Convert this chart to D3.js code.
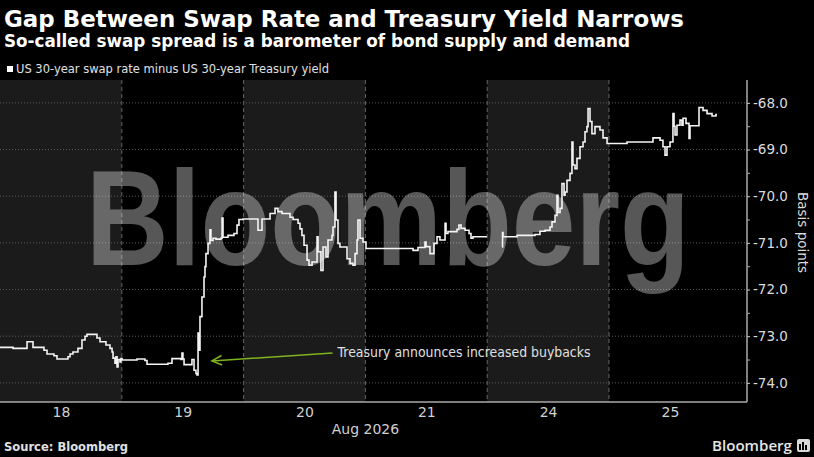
<!DOCTYPE html>
<html>
<head>
	<meta charset="utf-8">
	<title>Gap Between Swap Rate and Treasury Yield Narrows</title>
	<script src="https://cdn.jsdelivr.net/npm/d3@7"></script>
	<style>
		html, body { margin: 0; padding: 0; background: #000; }
		svg { display: block; }
	</style>
</head>
<body>
<div id="chart"></div>
<script>

	// data: x = trading-day position (0 = start of Aug 18), y = basis points
	const days = ["18", "19", "20", "21", "24", "25"];
	const yTicks = [-74, -73, -72, -71, -70, -69, -68];
	const yMinor = [-74.5, -73.5, -72.5, -71.5, -70.5, -69.5, -68.5, -67.5];

	const day18 = [
		[0.000, -73.24], [0.107, -73.26], [0.222, -73.12], [0.271, -73.24], [0.361, -73.30],
		[0.386, -73.38], [0.443, -73.42], [0.468, -73.49], [0.558, -73.44], [0.575, -73.38],
		[0.599, -73.34], [0.640, -73.26], [0.673, -73.08], [0.698, -73.00], [0.714, -72.96],
		[0.796, -73.04], [0.821, -73.12], [0.870, -73.19], [0.903, -73.26], [0.920, -73.34],
		[0.928, -73.47], [0.944, -73.58], [0.952, -73.44], [0.961, -73.66], [0.969, -73.50],
		[0.985, -73.55], [0.993, -73.48]
	];
	const day19 = [
		[1.002, -73.51], [1.125, -73.49], [1.190, -73.52], [1.207, -73.60], [1.379, -73.58],
		[1.412, -73.48], [1.486, -73.50], [1.494, -73.36], [1.502, -73.49], [1.511, -73.61],
		[1.576, -73.50], [1.593, -73.73], [1.609, -73.80], [1.617, -73.83], [1.626, -72.93],
		[1.634, -73.30], [1.642, -72.58], [1.658, -72.16], [1.675, -71.73], [1.683, -71.51],
		[1.691, -71.23], [1.708, -71.01], [1.724, -70.72], [1.732, -70.95], [1.749, -70.90],
		[1.773, -70.92], [1.814, -70.90], [1.823, -70.47], [1.831, -70.88], [1.872, -70.84],
		[1.921, -70.80], [1.946, -70.62], [1.962, -70.50]
	];
	const day20 = [
		[1.995, -70.49], [2.118, -70.73], [2.151, -70.49], [2.217, -70.37], [2.258, -70.26],
		[2.282, -70.33], [2.315, -70.37], [2.381, -70.45], [2.406, -70.50], [2.447, -70.58],
		[2.463, -70.70], [2.479, -70.84], [2.496, -71.05], [2.521, -71.37], [2.537, -71.48],
		[2.562, -71.41], [2.603, -70.87], [2.611, -71.19], [2.635, -71.59], [2.652, -71.09],
		[2.677, -71.30], [2.693, -70.94], [2.726, -70.84], [2.734, -70.66], [2.750, -69.91],
		[2.759, -70.51], [2.775, -71.01], [2.791, -71.09], [2.849, -71.34], [2.874, -71.44],
		[2.898, -71.48], [2.915, -71.23], [2.931, -70.94], [2.939, -70.51], [2.956, -70.90],
		[2.980, -70.98]
	];
	const day21 = [
		[3.005, -71.12], [3.391, -71.16], [3.432, -71.10], [3.489, -70.98], [3.498, -71.08],
		[3.530, -71.23], [3.563, -71.01], [3.588, -70.87], [3.612, -70.94], [3.654, -70.58],
		[3.662, -70.80], [3.678, -70.76], [3.752, -70.71], [3.768, -70.62], [3.785, -70.69],
		[3.818, -70.73], [3.851, -70.80], [3.867, -70.90], [3.883, -70.87], [3.998, -70.87]
	];
	const day24 = [
		[4.122, -71.09], [4.126, -70.78], [4.130, -70.87], [4.245, -70.84], [4.392, -70.82],
		[4.433, -70.75], [4.475, -70.73], [4.516, -70.66], [4.532, -70.55], [4.557, -70.41],
		[4.573, -69.98], [4.581, -70.35], [4.598, -70.26], [4.614, -69.73], [4.631, -69.98],
		[4.639, -69.91], [4.655, -69.66], [4.680, -69.51], [4.696, -68.84], [4.704, -69.33],
		[4.721, -69.41], [4.737, -69.19], [4.762, -68.94], [4.787, -68.84], [4.803, -68.62],
		[4.819, -68.51], [4.828, -68.12], [4.844, -68.40], [4.860, -68.66], [4.885, -68.51],
		[4.926, -68.58], [4.951, -68.75], [4.984, -68.87]
	];
	const day25 = [
		[5.148, -68.84], [5.361, -68.75], [5.419, -68.80], [5.443, -68.94], [5.460, -69.12],
		[5.476, -68.94], [5.501, -68.84], [5.525, -68.23], [5.534, -68.50], [5.542, -68.69],
		[5.558, -68.48], [5.583, -68.37], [5.599, -68.48], [5.608, -68.33], [5.632, -68.44],
		[5.657, -68.76], [5.665, -68.49], [5.739, -68.10], [5.772, -68.16], [5.805, -68.23],
		[5.846, -68.28], [5.878, -68.25], [5.887, -68.25]
	];

	const annotationText = "Treasury announces increased buybacks";
	const annotationFrom = [2.73, -73.36];
	const annotationTo = [1.74, -73.53];

	// layout
	const width = 814;
	const height = 457;
	const plotTop = 80;
	const plotBottom = 402;
	const plotRight = 747;
	const green = "#7fb420";

	const x = d3.scaleLinear([0, 6.133], [0, plotRight]);
	const y = d3.scaleLinear([-74.41, -67.51], [plotBottom, plotTop]);

	const svg = d3.select("#chart")
		.append("svg")
		.attr("width", width)
		.attr("height", height)
		.attr("viewBox", [0, 0, width, height]);

	svg.append("rect")
		.attr("width", width)
		.attr("height", height)
		.attr("fill", "#000");

	// day bands
	svg.append("g")
		.selectAll("rect")
		.data(days)
		.join("rect")
		.attr("x", (d, i) => x(i))
		.attr("y", plotTop)
		.attr("width", (d, i) => (i === days.length - 1 ? plotRight : x(i + 1)) - x(i))
		.attr("height", plotBottom - plotTop)
		.attr("fill", (d, i) => i % 2 === 0 ? "#1b1b1b" : "#000");

	// horizontal grid
	svg.append("g")
		.selectAll("line")
		.data(yTicks)
		.join("line")
		.attr("x1", 0)
		.attr("x2", plotRight)
		.attr("y1", d => y(d))
		.attr("y2", d => y(d))
		.attr("stroke", "#5a5a5a")
		.attr("stroke-width", 1)
		.attr("stroke-dasharray", "1,2");

	// day separators
	svg.append("g")
		.selectAll("line")
		.data(d3.range(1, days.length))
		.join("line")
		.attr("x1", d => x(d))
		.attr("x2", d => x(d))
		.attr("y1", plotTop)
		.attr("y2", plotBottom)
		.attr("stroke", "#666")
		.attr("stroke-dasharray", "4,3");

	// watermark, squeezed horizontally to the reference width
	const mark = svg.append("text")
		.attr("font-family", "Liberation Sans, Arial, sans-serif")
		.attr("font-weight", "bold")
		.attr("font-size", 135)
		.attr("fill", "#fff")
		.attr("fill-opacity", 0.34)
		.text("Bloomberg");
	const markWidth = mark.node().getComputedTextLength() || 712;
	mark.attr("transform", `translate(86,265) scale(${604 / markWidth},1)`);

	// series
	const line = d3.line()
		.x(d => x(d[0]))
		.y(d => y(d[1]))
		.curve(d3.curveStepAfter);

	const segments = [
		[...day18, ...day19, ...day20, ...day21],
		[...day24, ...day25]
	];

	svg.append("g")
		.selectAll("path")
		.data(segments)
		.join("path")
		.attr("d", line)
		.attr("fill", "none")
		.attr("stroke", "#f4f4f4")
		.attr("stroke-width", 1.6)
		.attr("stroke-linejoin", "miter");

	// bottom axis
	const xAxis = d3.axisBottom(x)
		.tickValues(days.map((d, i) => i + 0.5))
		.tickFormat((d, i) => days[i])
		.tickSize(0)
		.tickPadding(5);

	svg.append("g")
		.attr("transform", `translate(0,${plotBottom})`)
		.call(xAxis)
		.call(g => g.select(".domain")
			.attr("d", `M0,0H${plotRight}`)
			.attr("stroke", "#aaa")
			.attr("stroke-width", 1.5))
		.call(g => g.selectAll("text")
			.attr("fill", "#d0d0d0")
			.attr("font-family", "DejaVu Sans, sans-serif")
			.attr("font-size", 14));

	svg.append("text")
		.attr("x", x(3))
		.attr("y", 434)
		.attr("text-anchor", "middle")
		.attr("font-family", "DejaVu Sans, sans-serif")
		.attr("font-size", 14)
		.attr("fill", "#d0d0d0")
		.text("Aug 2026");

	// right axis
	const locale = d3.formatLocale({ decimal: ".", thousands: ",", grouping: [3], currency: ["", ""], minus: "-" });

	svg.append("g")
		.attr("transform", `translate(${plotRight},0)`)
		.call(d3.axisRight(y).tickValues(yMinor.filter(v => v > -74.41 && v < -67.51)).tickSize(3))
		.call(g => g.select(".domain").remove())
		.call(g => g.selectAll("text").remove())
		.call(g => g.selectAll("line").attr("stroke", "#aaa"));

	svg.append("g")
		.attr("transform", `translate(${plotRight},0)`)
		.call(d3.axisRight(y)
			.tickValues(yTicks)
			.tickFormat(locale.format(".1f"))
			.tickSize(3)
			.tickPadding(3)
			.tickSizeOuter(0))
		.call(g => g.select(".domain")
			.attr("d", `M0,${plotTop}V${plotBottom}`)
			.attr("stroke", "#aaa")
			.attr("stroke-width", 1.5))
		.call(g => g.selectAll("line").attr("stroke", "#ccc"))
		.call(g => g.selectAll("text")
			.attr("fill", "#dcdcdc")
			.attr("font-family", "DejaVu Sans, sans-serif")
			.attr("font-size", 13.5));

	// vertical title, glyphs turned clockwise
	svg.append("text")
		.attr("x", 803)
		.attr("y", 192)
		.style("writing-mode", "vertical-rl")
		.attr("font-family", "DejaVu Sans, sans-serif")
		.attr("font-size", 13.5)
		.attr("fill", "#dcdcdc")
		.text("Basis points");

	// annotation
	const ax1 = x(annotationFrom[0]), ay1 = y(annotationFrom[1]);
	const ax2 = x(annotationTo[0]), ay2 = y(annotationTo[1]);
	const ang = Math.atan2(ay1 - ay2, ax1 - ax2);
	const head = 11, spread = 0.45;

	svg.append("line")
		.attr("x1", ax1).attr("y1", ay1)
		.attr("x2", ax2).attr("y2", ay2)
		.attr("stroke", green)
		.attr("stroke-width", 1.5);

	svg.append("path")
		.attr("d", `M${ax2 + head * Math.cos(ang - spread)},${ay2 + head * Math.sin(ang - spread)}L${ax2},${ay2}L${ax2 + head * Math.cos(ang + spread)},${ay2 + head * Math.sin(ang + spread)}`)
		.attr("fill", "none")
		.attr("stroke", green)
		.attr("stroke-width", 1.5);

	svg.append("text")
		.attr("x", ax1 + 5)
		.attr("y", ay1 + 4)
		.attr("font-family", "DejaVu Sans, sans-serif")
		.attr("font-size", 13.5)
		.attr("textLength", 253)
		.attr("lengthAdjust", "spacingAndGlyphs")
		.attr("fill", "#e0e0e0")
		.text(annotationText);

	// header
	svg.append("text")
		.attr("x", 4)
		.attr("y", 27)
		.attr("font-family", "DejaVu Sans Condensed, DejaVu Sans, sans-serif")
		.attr("font-weight", "bold")
		.attr("font-size", 23)
		.attr("textLength", 680)
		.attr("lengthAdjust", "spacingAndGlyphs")
		.attr("fill", "#fff")
		.text("Gap Between Swap Rate and Treasury Yield Narrows");

	svg.append("text")
		.attr("x", 4)
		.attr("y", 47)
		.attr("font-family", "DejaVu Sans Condensed, DejaVu Sans, sans-serif")
		.attr("font-weight", "bold")
		.attr("font-size", 18)
		.attr("textLength", 626)
		.attr("lengthAdjust", "spacingAndGlyphs")
		.attr("fill", "#fff")
		.text("So-called swap spread is a barometer of bond supply and demand");

	svg.append("rect")
		.attr("x", 7)
		.attr("y", 66)
		.attr("width", 6)
		.attr("height", 6)
		.attr("fill", "#fff");

	svg.append("text")
		.attr("x", 16)
		.attr("y", 73)
		.attr("font-family", "DejaVu Sans Condensed, DejaVu Sans, sans-serif")
		.attr("font-size", 12)
		.attr("textLength", 313)
		.attr("lengthAdjust", "spacingAndGlyphs")
		.attr("fill", "#e0e0e0")
		.text("US 30-year swap rate minus US 30-year Treasury yield");

	// footer
	svg.append("text")
		.attr("x", 4)
		.attr("y", 451)
		.attr("font-family", "DejaVu Sans, sans-serif")
		.attr("font-weight", "bold")
		.attr("font-size", 12.5)
		.attr("textLength", 124)
		.attr("lengthAdjust", "spacingAndGlyphs")
		.attr("fill", "#e0e0e0")
		.text("Source: Bloomberg");

	svg.append("text")
		.attr("x", 712)
		.attr("y", 451)
		.attr("font-family", "Open Sans, DejaVu Sans, sans-serif")
		.attr("font-weight", 600)
		.attr("font-size", 15)
		.attr("textLength", 80)
		.attr("lengthAdjust", "spacingAndGlyphs")
		.attr("fill", "#e6e6e6")
		.text("Bloomberg");

	const icon = svg.append("g").attr("transform", "translate(797,439)");
	icon.append("rect")
		.attr("width", 13)
		.attr("height", 13)
		.attr("rx", 2)
		.attr("fill", "#d8d8d8");
	icon.selectAll("rect.bar")
		.data([[3, 5], [6, 3], [9, 6]])
		.join("rect")
		.attr("class", "bar")
		.attr("x", d => d[0] - 1)
		.attr("y", d => d[1])
		.attr("width", 2)
		.attr("height", d => 11 - d[1])
		.attr("fill", "#000");

</script>
</body>
</html>
